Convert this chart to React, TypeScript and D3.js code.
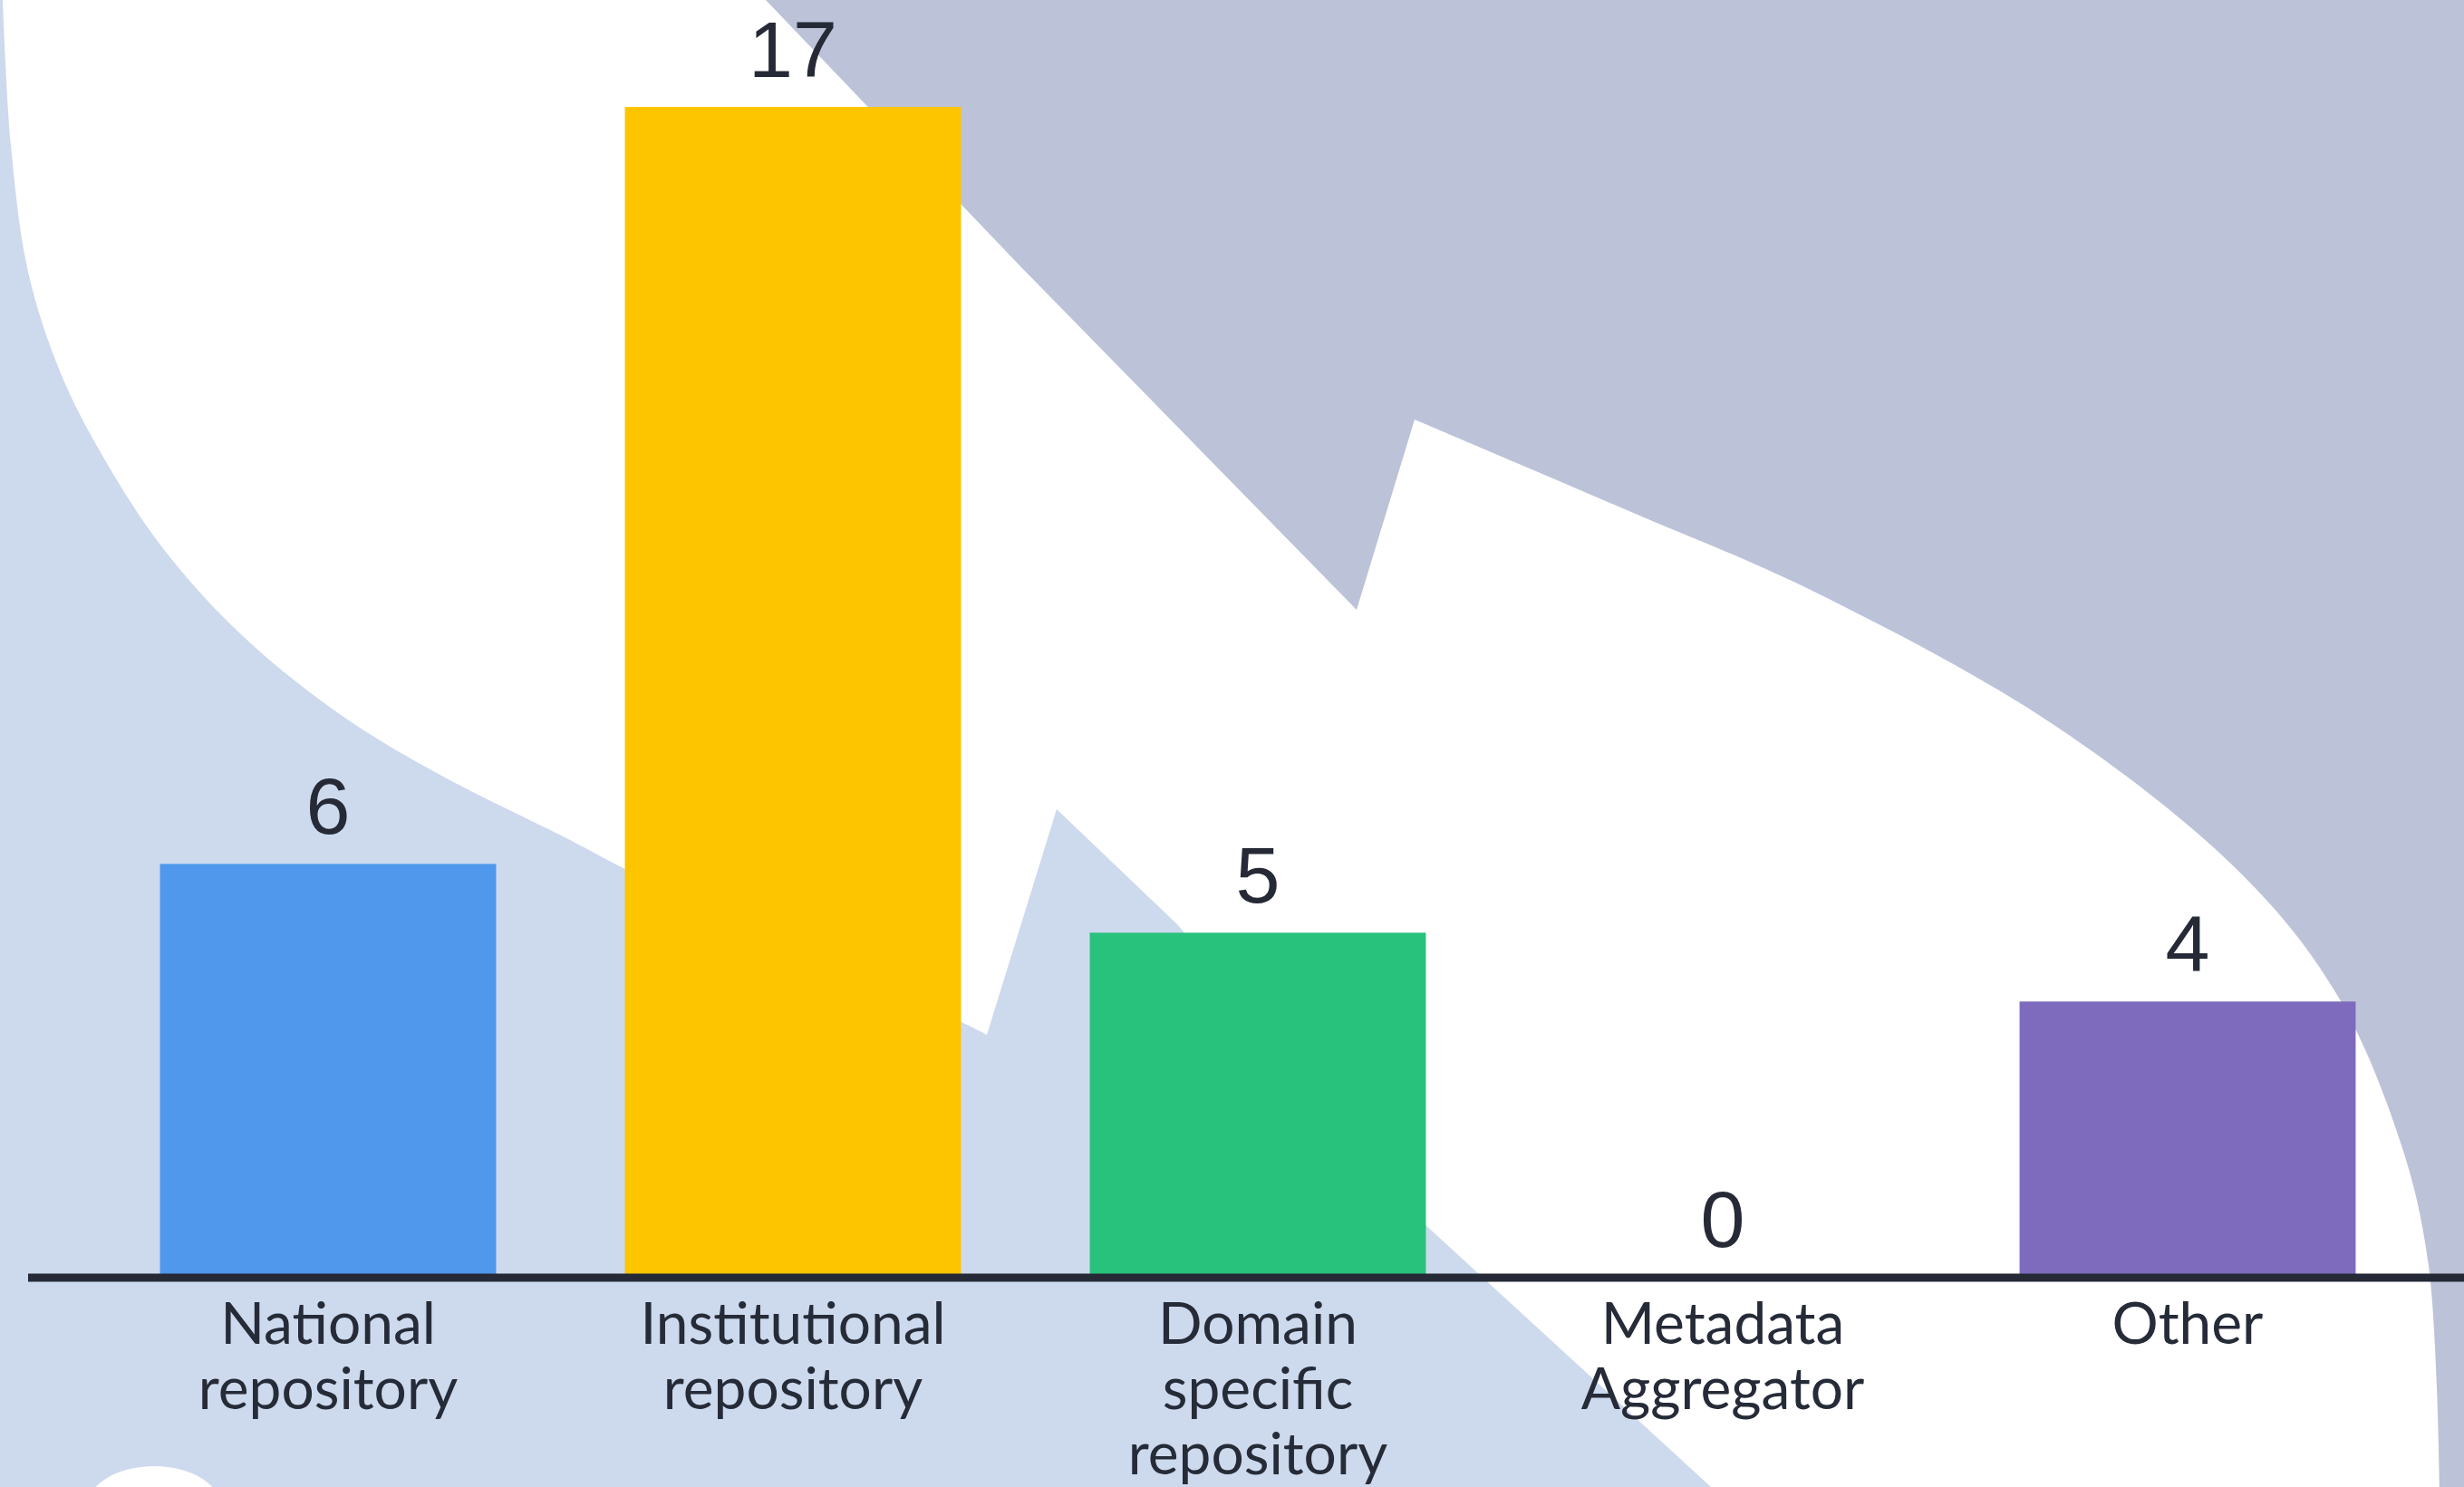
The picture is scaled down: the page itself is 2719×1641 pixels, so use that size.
import React from "react";
import * as d3 from "d3";

const categories = [
  ["National", "repository"],
  ["Institutional", "repository"],
  ["Domain", "specific", "repository"],
  ["Metadata", "Aggregator"],
  ["Other"],
];
const values = [6, 17, 5, 0, 4];
const barColors = ["#4f98ec", "#fdc400", "#28c27d", "#7e6bbe"];
const colorIndex = [0, 1, 2, 3, 3];

const W = 2719;
const H = 1641;

const lightBluePts: [number, number][] = [
  [3, 0], [12, 160], [31, 300], [67, 412], [112, 501], [179, 604], [268, 702], [379, 791], [491, 858], [625, 925], [688, 958], [880, 1052], [1061, 1128], [1089, 1142],
];
const darkCurvePts: [number, number][] = [
  [1561, 463], [1800, 565], [2000, 652], [2265, 799], [2474, 965], [2579, 1098], [2650, 1264], [2680, 1397], [2692, 1641],
];

export default function App() {
  const keys = categories.map((c) => c.join(" "));
  const x = d3.scaleBand<string>().domain(keys).range([105.5, 2670.5]).paddingInner(0.277).paddingOuter(0.1385);
  const y = d3.scaleLinear().domain([0, 17]).range([1409, 118]);

  const curve = d3.line().curve(d3.curveCatmullRom.alpha(0.5));
  const lightPath =
    "M0,0 L" + curve(lightBluePts)!.slice(1) +
    " L1166,893 L1300,1021 L1571,1350 L1888,1641 L0,1641 Z";
  const darkPath =
    "M845,0 L1128,296 L1497,673 L" + curve(darkCurvePts)!.slice(1) +
    " L2719,1641 L2719,0 Z";

  return (
    <svg width={W} height={H} style={{ position: "absolute", left: 0, top: 0, display: "block" }}>
      <rect x={0} y={0} width={W} height={H} fill="#ffffff" />
      <path d={lightPath} fill="#cdd9ed" />
      <ellipse cx={170} cy={1665} rx={75} ry={47} fill="#ffffff" />
      <path d={darkPath} fill="#bcc3d8" />
      {keys.map((k, i) => (
        <g key={k}>
          {values[i] > 0 && (
            <rect
              x={x(k)}
              y={y(values[i])}
              width={x.bandwidth()}
              height={y(0) - y(values[i])}
              fill={barColors[colorIndex[i]]}
            />
          )}
          <text
            x={x(k)! + x.bandwidth() / 2}
            y={y(values[i]) - 33}
            textAnchor="middle"
            fontFamily="'Liberation Sans', Arial, sans-serif"
            fontSize={88}
            fill="#252a36"
          >
            {values[i]}
          </text>
          {categories[i].map((line, j) => (
            <text
              key={j}
              x={x(k)! + x.bandwidth() / 2}
              y={1483 + j * 72}
              textAnchor="middle"
              fontFamily="Lato, sans-serif"
              fontSize={64}
              fill="#262b38"
            >
              {line}
            </text>
          ))}
        </g>
      ))}
      <line x1={31} x2={W} y1={1410} y2={1410} stroke="#252a36" strokeWidth={9} />
    </svg>
  );
}
